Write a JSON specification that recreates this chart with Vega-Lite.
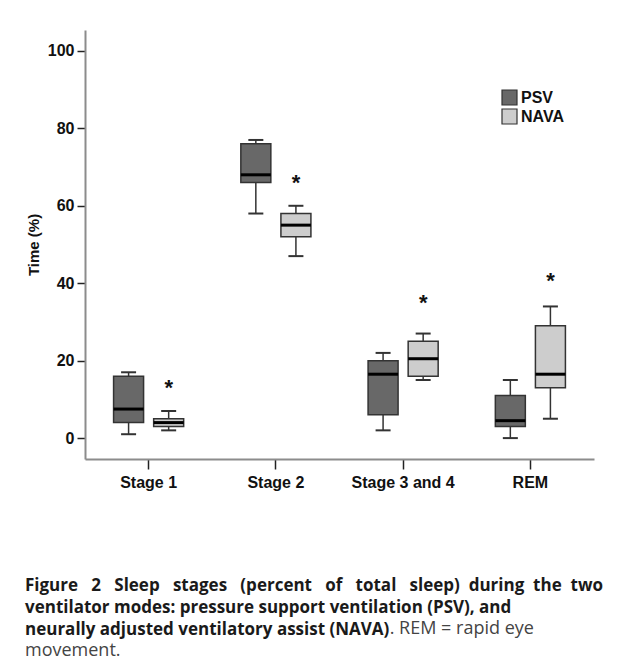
{
  "$schema": "https://vega.github.io/schema/vega-lite/v6.json",
  "width": 509,
  "height": 429,
  "autosize": {"type": "none"},
  "padding": {"left": 85, "top": 30, "right": 33, "bottom": 198},
  "background": "white",
  "config": {
    "view": {"stroke": null},
    "font": "Liberation Sans",
    "legend": {
      "orient": "none",
      "legendX": 416,
      "legendY": 59,
      "title": null,
      "symbolType": "square",
      "symbolSize": 225,
      "symbolStrokeColor": "#333333",
      "symbolStrokeWidth": 1.2,
      "labelFontSize": 16,
      "labelFontWeight": "bold",
      "labelColor": "#111111",
      "labelOffset": 3,
      "rowPadding": -3
    }
  },
  "title": {
    "text": ["Figure \u00a0\u00a02 \u00a0\u00a0Sleep \u00a0\u00a0stages \u00a0\u00a0(percent \u00a0\u00a0of \u00a0\u00a0total \u00a0\u00a0sleep) \u00a0during \u00a0the \u00a0two", "ventilator modes: pressure support ventilation (PSV), and", "neurally adjusted ventilatory assist (NAVA)"],
    "subtitle": ["\u200b\u00a0\u00a0\u00a0\u00a0\u00a0\u00a0\u00a0\u00a0\u00a0\u00a0\u00a0\u00a0\u00a0\u00a0\u00a0\u00a0\u00a0\u00a0\u00a0\u00a0\u00a0\u00a0\u00a0\u00a0\u00a0\u00a0\u00a0\u00a0\u00a0\u00a0\u00a0\u00a0\u00a0\u00a0\u00a0\u00a0\u00a0\u00a0\u00a0\u00a0\u00a0\u00a0\u00a0\u00a0\u00a0\u00a0\u00a0\u00a0\u00a0\u00a0\u00a0\u00a0\u00a0\u00a0\u00a0\u00a0\u00a0\u00a0\u00a0\u00a0\u00a0\u00a0\u00a0\u00a0\u00a0\u00a0\u00a0\u00a0\u00a0\u00a0\u00a0\u00a0\u00a0\u00a0\u00a0\u00a0\u00a0\u00a0. REM = rapid eye", "movement."],
    "orient": "bottom",
    "anchor": "start",
    "frame": "group",
    "dx": -60,
    "offset": 88,
    "font": "Open Sans",
    "fontSize": 17,
    "fontWeight": "bold",
    "color": "#1a1a1a",
    "lineHeight": 22,
    "subtitleFont": "Open Sans",
    "subtitleFontSize": 18,
    "subtitleFontWeight": "normal",
    "subtitleColor": "#444444",
    "subtitleLineHeight": 22,
    "subtitlePadding": -19
  },
  "data": {
    "values": [
      {"stage": "Stage 1", "mode": "PSV", "min": 1, "q1": 4, "median": 7.5, "q3": 16, "max": 17, "star": null},
      {"stage": "Stage 1", "mode": "NAVA", "min": 2, "q1": 3, "median": 4, "q3": 5, "max": 7, "star": 14},
      {"stage": "Stage 2", "mode": "PSV", "min": 58, "q1": 66, "median": 68, "q3": 76, "max": 77, "star": null},
      {"stage": "Stage 2", "mode": "NAVA", "min": 47, "q1": 52, "median": 55, "q3": 58, "max": 60, "star": 67},
      {"stage": "Stage 3 and 4", "mode": "PSV", "min": 2, "q1": 6, "median": 16.5, "q3": 20, "max": 22, "star": null},
      {"stage": "Stage 3 and 4", "mode": "NAVA", "min": 15, "q1": 16, "median": 20.5, "q3": 25, "max": 27, "star": 36},
      {"stage": "REM", "mode": "PSV", "min": 0, "q1": 3, "median": 4.5, "q3": 11, "max": 15, "star": null},
      {"stage": "REM", "mode": "NAVA", "min": 5, "q1": 13, "median": 16.5, "q3": 29, "max": 34, "star": 41.5}
    ]
  },
  "encoding": {
    "x": {
      "field": "stage",
      "type": "nominal",
      "sort": ["Stage 1", "Stage 2", "Stage 3 and 4", "REM"],
      "scale": {"paddingInner": 0, "paddingOuter": 0},
      "axis": {
        "title": null,
        "labelAngle": 0,
        "tickSize": 10,
        "tickWidth": 1.5,
        "tickColor": "#222222",
        "domainColor": "#8c8c8c",
        "domainWidth": 2,
        "labelFontSize": 16,
        "labelFontWeight": "bold",
        "labelColor": "#111111",
        "labelPadding": 5
      }
    },
    "xOffset": {
      "field": "mode",
      "type": "nominal",
      "sort": ["PSV", "NAVA"],
      "scale": {"paddingInner": 0, "paddingOuter": 0.5875}
    }
  },
  "layer": [
    {
      "mark": {"type": "rule", "color": "#333333", "strokeWidth": 1.5},
      "encoding": {
        "y": {
          "field": "min",
          "type": "quantitative",
          "scale": {"domain": [-5.4, 105.4], "nice": false, "zero": false},
          "axis": {
            "values": [0, 20, 40, 60, 80, 100],
            "title": "Time (%)",
            "grid": false,
            "domainColor": "#8c8c8c",
            "domainWidth": 2,
            "tickColor": "#222222",
            "tickWidth": 1.5,
            "tickSize": 8,
            "labelFontSize": 16,
            "labelFontWeight": "bold",
            "labelColor": "#111111",
            "labelPadding": 3,
            "titleFontSize": 15,
            "titleFontWeight": "bold",
            "titleColor": "#111111",
            "titlePadding": 6
          }
        },
        "y2": {"field": "max"}
      }
    },
    {
      "mark": {"type": "tick", "color": "#333333", "thickness": 2, "size": 15, "opacity": 1},
      "encoding": {"y": {"field": "min", "type": "quantitative"}}
    },
    {
      "mark": {"type": "tick", "color": "#333333", "thickness": 2, "size": 15, "opacity": 1},
      "encoding": {"y": {"field": "max", "type": "quantitative"}}
    },
    {
      "mark": {"type": "bar", "stroke": "#333333", "strokeWidth": 1.5, "width": 30, "opacity": 1},
      "encoding": {
        "y": {"field": "q1", "type": "quantitative"},
        "y2": {"field": "q3"},
        "color": {
          "field": "mode",
          "type": "nominal",
          "scale": {"domain": ["PSV", "NAVA"], "range": ["#686868", "#cdcdcd"]}
        }
      }
    },
    {
      "mark": {"type": "tick", "color": "#000000", "thickness": 3, "size": 30, "opacity": 1},
      "encoding": {"y": {"field": "median", "type": "quantitative"}}
    },
    {
      "transform": [{"filter": "datum.star != null"}],
      "mark": {"type": "text", "text": "*", "fontSize": 22, "fontWeight": "bold", "color": "#111111", "baseline": "middle", "dy": 4},
      "encoding": {"y": {"field": "star", "type": "quantitative"}}
    }
  ]
}
